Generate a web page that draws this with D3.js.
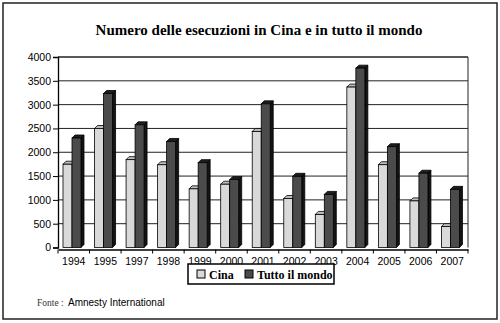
<!DOCTYPE html>
<html>
<head>
<meta charset="utf-8">
<script src="https://cdn.jsdelivr.net/npm/d3@7"></script>
<style>
  html, body { margin: 0; padding: 0; background: #fff; }
  svg { display: block; }
</style>
</head>
<body>
<svg id="chart" width="500" height="323"></svg>
<script>
const title = "Numero delle esecuzioni in Cina e in tutto il mondo";
const years = ["1994","1995","1997","1998","1999","2000","2001","2002","2003","2004","2005","2006","2007"];
const seriesNames = ["Cina", "Tutto il mondo"];
const cina  = [1780, 2530, 1876, 1769, 1263, 1360, 2468, 1060, 726, 3400, 1770, 1010, 470];
const mondo = [2331, 3265, 2607, 2258, 1813, 1457, 3048, 1526, 1146, 3797, 2148, 1591, 1252];
const yTicks = [0, 500, 1000, 1500, 2000, 2500, 3000, 3500, 4000];
const source = "Amnesty International";

const svg = d3.select("#chart");
const plot = { left: 58, right: 468, top: 57, bottom: 247.5 };

// outer frame
svg.append("rect").attr("x", 3).attr("y", 3).attr("width", 494).attr("height", 316)
  .attr("fill", "#fff").attr("stroke", "#222").attr("stroke-width", 1.5);

// title
svg.append("text").attr("x", 259).attr("y", 35).attr("text-anchor", "middle")
  .attr("font-family", "'Liberation Serif', 'Times New Roman', serif")
  .attr("font-weight", "bold").attr("font-size", 15).attr("fill", "#000")
  .text(title);

const x = d3.scaleBand().domain(years).range([plot.left, plot.right]).padding(0);
const y = d3.scaleLinear().domain([0, 4000]).range([plot.bottom, plot.top]);

// gridlines
svg.append("g").selectAll("line").data(yTicks.filter(d => d > 0)).join("line")
  .attr("x1", plot.left).attr("x2", plot.right)
  .attr("y1", d => y(d)).attr("y2", d => y(d))
  .attr("stroke", "#222").attr("stroke-width", d => d === 4000 ? 1.6 : 1);

// right wall edge
svg.append("line").attr("x1", plot.right).attr("x2", plot.right)
  .attr("y1", plot.top).attr("y2", plot.bottom).attr("stroke", "#222").attr("stroke-width", 1);

// y axis
const yAxis = d3.axisLeft(y).tickValues(yTicks).tickSize(5).tickPadding(2).tickFormat(d3.format("d"));
const gy = svg.append("g").attr("transform", `translate(${plot.left},0)`).call(yAxis);
gy.select(".domain").attr("stroke", "#000").attr("stroke-width", 1.3);
gy.selectAll(".tick line").attr("stroke", "#000");
gy.selectAll("text").attr("font-family", "'Liberation Sans', Arial, sans-serif")
  .attr("font-size", 10.5).attr("fill", "#000");

// x axis
const xAxis = d3.axisBottom(x).tickSizeOuter(0).tickSize(0).tickPadding(8);
const gx = svg.append("g").attr("transform", `translate(0,${plot.bottom + 2})`).call(xAxis);
gx.select(".domain").attr("stroke", "#000").attr("stroke-width", 1.3);
gx.selectAll("text").attr("font-family", "'Liberation Sans', Arial, sans-serif")
  .attr("font-size", 10.5).attr("fill", "#000");
// category boundary ticks
svg.append("g").selectAll("line").data(years.concat(["end"])).join("line")
  .attr("x1", (d, i) => plot.left + i * x.bandwidth())
  .attr("x2", (d, i) => plot.left + i * x.bandwidth())
  .attr("y1", plot.bottom + 2).attr("y2", plot.bottom + 6)
  .attr("stroke", "#000").attr("stroke-width", 1);

// bars (pseudo-3D)
const inner = d3.scaleBand().domain([0, 1]).range([5, 23]).padding(0);
const depth = 3;
const colors = [
  { front: "#d9d9d9", top: "#bdbdbd", side: "#8a8a8a" },
  { front: "#4b4b4b", top: "#1e1e1e", side: "#141414" }
];
const data = [];
years.forEach((yr, i) => {
  [cina[i], mondo[i]].forEach((v, s) => data.push({ yr, s, v }));
});

const bars = svg.append("g").selectAll("g").data(data).join("g");
bars.each(function(d) {
  const g = d3.select(this);
  const x0 = x(d.yr) + inner(d.s);
  const x1 = x0 + inner.bandwidth();
  const yt = y(d.v) + 1.5;
  const yb = plot.bottom;
  const c = colors[d.s];
  g.append("path")
    .attr("d", `M${x1},${yt} L${x1 + depth},${yt - depth} L${x1 + depth},${yb - depth} L${x1},${yb} Z`)
    .attr("fill", c.side).attr("stroke", "#000").attr("stroke-width", 0.8);
  g.append("path")
    .attr("d", `M${x0},${yt} L${x0 + depth},${yt - depth} L${x1 + depth},${yt - depth} L${x1},${yt} Z`)
    .attr("fill", c.top).attr("stroke", "#000").attr("stroke-width", 0.8);
  g.append("rect").attr("x", x0).attr("y", yt).attr("width", x1 - x0).attr("height", yb - yt)
    .attr("fill", c.front).attr("stroke", "#000").attr("stroke-width", 0.8);
});

// legend
const lg = svg.append("g");
lg.append("rect").attr("x", 188).attr("y", 264).attr("width", 146).attr("height", 20)
  .attr("fill", "#fff").attr("stroke", "#000").attr("stroke-width", 1.5);
const legendItems = [
  { name: seriesNames[0], sx: 197, tx: 209, color: colors[0].front },
  { name: seriesNames[1], sx: 245, tx: 257, color: colors[1].front }
];
legendItems.forEach(it => {
  lg.append("rect").attr("x", it.sx).attr("y", 270).attr("width", 8).attr("height", 8)
    .attr("fill", it.color).attr("stroke", "#000").attr("stroke-width", 1);
  lg.append("text").attr("x", it.tx).attr("y", 279)
    .attr("font-family", "'Liberation Serif', 'Times New Roman', serif")
    .attr("font-weight", "bold").attr("font-size", 12).attr("fill", "#000").text(it.name);
});

// source
svg.append("text").attr("x", 37).attr("y", 306)
  .attr("font-family", "'Liberation Serif', 'Times New Roman', serif")
  .attr("font-size", 9.5).attr("fill", "#333").text("Fonte :");
svg.append("text").attr("x", 68).attr("y", 306)
  .attr("font-family", "'Liberation Sans', Arial, sans-serif")
  .attr("font-size", 10).attr("fill", "#000").text(source);
</script>
</body>
</html>
